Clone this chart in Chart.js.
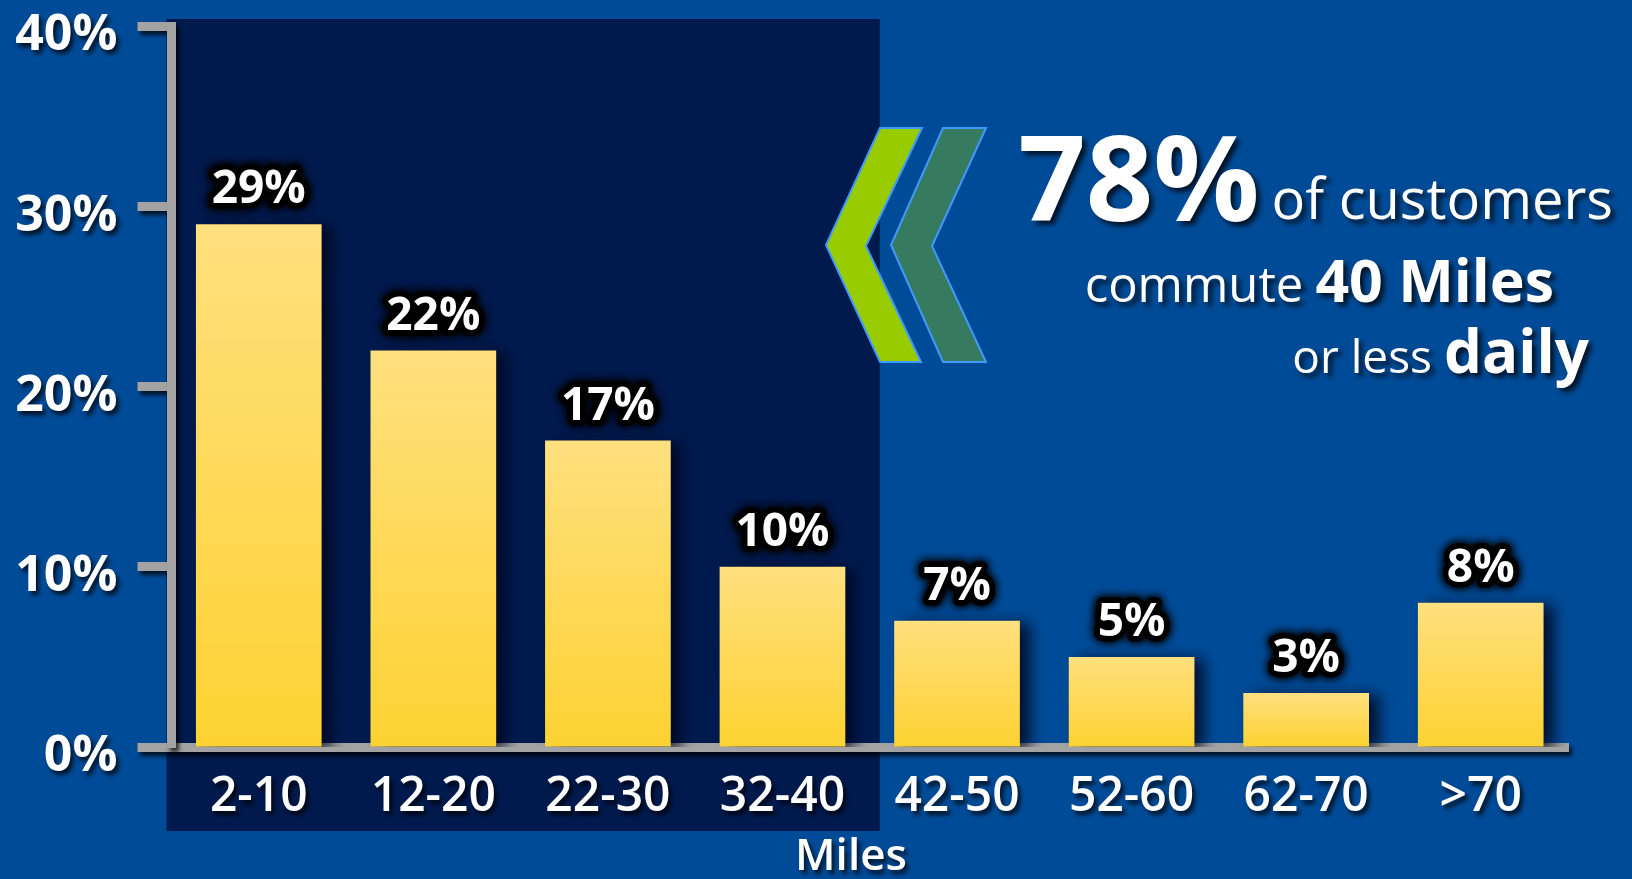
<!DOCTYPE html>
<html>
<head>
<meta charset="utf-8">
<script src="https://cdn.jsdelivr.net/npm/chart.js@4.4.1/dist/chart.umd.min.js"></script>
<style>
  html, body { margin: 0; padding: 0; background: #004b97; overflow: hidden; }
</style>
</head>
<body>
<canvas id="commute" width="1632" height="879"></canvas>
<script>
// commute distance buckets (miles) and share of customers in each
const ranges = ['2-10', '12-20', '22-30', '32-40', '42-50', '52-60', '62-70', '>70'];
const shares = [29, 22, 17, 10, 7, 5, 3, 8];
const yTickValues = [0, 10, 20, 30, 40];
const yTickLabels = ['0%', '10%', '20%', '30%', '40%'];

const BG = '#004b97';
const PANEL = '#001a4e';
const AXIS = '#a3a3a3';
const FONT = '"Open Sans", sans-serif';

const decor = {
    id: 'decor',
    beforeDraw(chart) {
        const { ctx, chartArea: a, scales: { x } } = chart;
        ctx.save();
        ctx.fillStyle = BG;
        ctx.fillRect(0, 0, chart.width, chart.height);
        // darker panel behind the first four buckets (<= 40 miles)
        const step = x.getPixelForValue(1) - x.getPixelForValue(0);
        const right = x.getPixelForValue(3) + step / 2 + 10;
        ctx.fillStyle = PANEL;
        ctx.fillRect(a.left - 5, 19, right - a.left + 5, 812);
        ctx.restore();
        // soft shadow for axis text
        ctx.shadowColor = 'rgba(0,0,0,0.75)';
        ctx.shadowOffsetX = 3;
        ctx.shadowOffsetY = 4;
        ctx.shadowBlur = 4;
    },
    beforeDatasetsDraw(chart) {
        const ctx = chart.ctx;
        ctx.shadowColor = 'rgba(0,5,30,0.85)';
        ctx.shadowOffsetX = 10;
        ctx.shadowOffsetY = 2;
        ctx.shadowBlur = 14;
    },
    afterDatasetsDraw(chart) {
        const ctx = chart.ctx;
        const meta = chart.getDatasetMeta(0);
        ctx.save();
        ctx.font = '700 46px ' + FONT;
        ctx.textAlign = 'center';
        ctx.textBaseline = 'middle';
        ctx.lineJoin = 'round';
        meta.data.forEach((bar, i) => {
            const label = shares[i] + '%';
            const y = bar.y - 34;
            ctx.shadowColor = '#000';
            ctx.shadowOffsetX = 0;
            ctx.shadowOffsetY = 0;
            ctx.shadowBlur = 10;
            ctx.strokeStyle = '#000';
            ctx.lineWidth = 11;
            ctx.strokeText(label, bar.x, y);
            ctx.strokeText(label, bar.x, y);
            ctx.shadowBlur = 0;
            ctx.fillStyle = '#fff';
            ctx.fillText(label, bar.x, y);
        });
        ctx.restore();
        ctx.shadowColor = 'rgba(0,0,0,0)';
        ctx.shadowBlur = 0;
        ctx.shadowOffsetX = 0;
        ctx.shadowOffsetY = 0;
    },
    afterDraw(chart) {
        const ctx = chart.ctx;
        ctx.save();
        // the two chevrons
        const chevron = (pts, fill) => {
            ctx.beginPath();
            pts.forEach((p, i) => i ? ctx.lineTo(p[0], p[1]) : ctx.moveTo(p[0], p[1]));
            ctx.closePath();
            ctx.fillStyle = fill;
            ctx.fill();
            ctx.strokeStyle = '#3d9bff';
            ctx.lineWidth = 2;
            ctx.stroke();
        };
        chevron([[880, 128], [922, 128], [866, 246], [921, 362], [880, 362], [826, 245]], '#99cc00');
        chevron([[943, 128], [986, 128], [932, 246], [986, 362], [943, 362], [891, 245]], '#367a60');

        // callout text
        ctx.shadowColor = 'rgba(0,0,0,0.75)';
        ctx.shadowOffsetX = 4;
        ctx.shadowOffsetY = 4;
        ctx.shadowBlur = 5;
        ctx.fillStyle = '#fff';
        ctx.textAlign = 'right';
        ctx.textBaseline = 'alphabetic';

        ctx.font = '400 56px ' + FONT;
        ctx.fillText('of customers', 1613, 219);
        let w = ctx.measureText('of customers').width;
        ctx.font = '700 118px ' + FONT;
        ctx.fillText('78%', 1613 - w - 12, 221);

        ctx.font = '700 59px ' + FONT;
        ctx.fillText('40 Miles', 1554, 302);
        w = ctx.measureText('40 Miles').width;
        ctx.font = '400 49px ' + FONT;
        ctx.fillText('commute', 1554 - w - 12, 302);

        ctx.font = '700 60px ' + FONT;
        ctx.fillText('daily', 1589, 373);
        w = ctx.measureText('daily').width;
        ctx.font = '400 46px ' + FONT;
        ctx.fillText('or less', 1589 - w - 12, 373);

        // x axis title, sits a little left of the plot centre
        ctx.shadowOffsetX = 3;
        ctx.shadowOffsetY = 4;
        ctx.shadowBlur = 4;
        ctx.textAlign = 'center';
        ctx.textBaseline = 'middle';
        ctx.font = '600 44px ' + FONT;
        ctx.fillText('Miles', 851, 857);
        ctx.restore();
    }
};

new Chart(document.getElementById('commute'), {
    type: 'bar',
    data: {
        labels: ranges,
        datasets: [{
            data: shares,
            backgroundColor: ctx => {
                const chart = ctx.chart;
                const a = chart.chartArea;
                if (!a) return '#ffd84a';
                const top = chart.scales.y.getPixelForValue(shares[ctx.dataIndex]);
                const g = chart.ctx.createLinearGradient(0, top, 0, a.bottom);
                g.addColorStop(0, '#ffe07e');
                g.addColorStop(1, '#fdd232');
                return g;
            },
            borderWidth: 0,
            barPercentage: 0.72,
            categoryPercentage: 1
        }]
    },
    options: {
        responsive: false,
        animation: false,
        layout: { padding: { top: 26, right: 64, left: 0, bottom: 0 } },
        plugins: {
            legend: { display: false },
            tooltip: { enabled: false }
        },
        scales: {
            x: {
                afterFit: s => { s.height = 132; },
                grid: { display: false },
                border: { display: true, color: AXIS, width: 9 },
                ticks: {
                    color: '#fff',
                    padding: 14,
                    font: { family: FONT, size: 48, weight: 600, lineHeight: 1.2 }
                }
            },
            y: {
                min: 0,
                max: 40,
                afterFit: s => {
                    s.width = 171.5;
                    // don't let label overflow push the plot down
                    s.paddingTop = 0;
                    s.paddingBottom = 0;
                },
                afterBuildTicks: s => { s.ticks = yTickValues.map(v => ({ value: v })); },
                grid: {
                    drawOnChartArea: false,
                    drawTicks: true,
                    tickLength: 34,
                    tickWidth: 9,
                    color: AXIS
                },
                border: { display: true, color: AXIS, width: 9 },
                ticks: {
                    color: '#fff',
                    padding: 20,
                    labelOffset: 10,
                    font: { family: FONT, size: 50, weight: 700, lineHeight: 1 },
                    callback: v => yTickLabels[yTickValues.indexOf(v)]
                }
            }
        }
    },
    plugins: [decor]
});
</script>
</body>
</html>
